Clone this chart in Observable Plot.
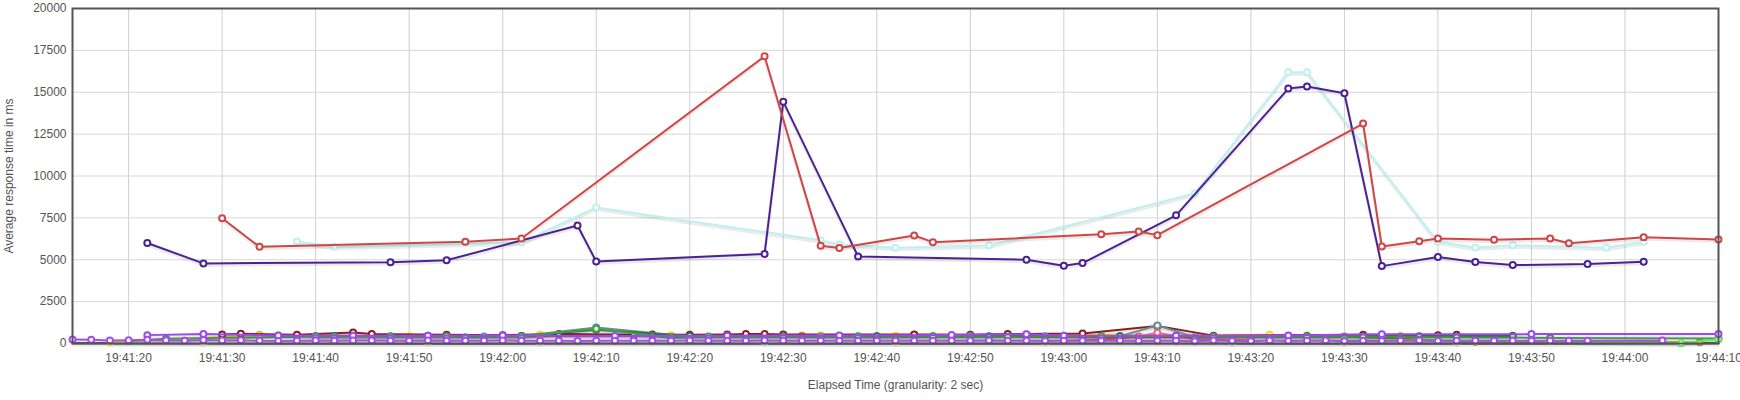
<!DOCTYPE html>
<html><head><meta charset="utf-8">
<script src="https://cdn.jsdelivr.net/npm/d3@7"></script>
<script src="https://cdn.jsdelivr.net/npm/@observablehq/plot@0.6"></script>
<style>
body{margin:0;background:#fff;}
#chart svg{overflow:visible;}
</style>
</head><body><div id="chart"></div>
<script>
// Times are seconds after 19:41:00
const xTickSeconds = [20,30,40,50,60,70,80,90,100,110,120,130,140,150,160,170,180,190];
const xTickLabels = ["19:41:20","19:41:30","19:41:40","19:41:50","19:42:00","19:42:10","19:42:20","19:42:30","19:42:40","19:42:50","19:43:00","19:43:10","19:43:20","19:43:30","19:43:40","19:43:50","19:44:00","19:44:10"];
const yTickValues = [0,2500,5000,7500,10000,12500,15000,17500,20000];
const xDomainSeconds = [14,190];

// main series
const purpleT = [22,28,48,54,68,70,88,90,98,116,120,122,132,144,146,150,154,160,164,168,176,182];
const purpleV = [6000,4780,4850,4970,7040,4900,5350,14440,5200,5000,4640,4800,7650,15220,15340,14940,4620,5160,4860,4680,4740,4880];
const redT = [30,34,56,62,88,94,96,104,106,124,128,130,152,154,158,160,166,172,174,182,190];
const redV = [7480,5770,6070,6270,17150,5830,5700,6450,6050,6520,6690,6470,13130,5790,6110,6270,6190,6270,5990,6350,6210];
const cyanT = [38,42,62,70,94,96,102,112,134,144,146,160,164,168,178,182];
const cyanV = [6090,5770,6030,8120,6170,5910,5710,5850,8950,16200,16200,6070,5730,5870,5710,6070];

// low series
const blackT = [14,40,70,100,130,160,190];
const blackV = [10,0,10,0,10,0,10];
const beigeT = [18,28,52,64,88,102,118,138,150,162];
const beigeV = [60,40,40,50,60,30,40,30,50,40];
const brownT = [32,34,46,62,92,108,132,142,150,164,188];
const brownV = [480,510,450,430,460,420,380,400,420,110,80];
const yellowT = [18,34,36,50,64,78,94,102,104,116,124,142,146,156];
const yellowV = [100,480,490,440,520,500,500,470,520,550,520,520,480,470];
const darkredT = [30,32,38,44,46,54,60,66,74,76,80,84,86,88,90,104,110,114,122,130,136,152,160,162];
const darkredV = [540,580,520,650,560,520,500,560,520,540,520,540,560,560,530,540,520,560,590,1050,470,520,500,520];
const slateT = [40,52,58,62,70,80,94,96,98,100,106,110,118,126,130,134,146,156,168];
const slateV = [430,460,420,450,960,420,420,440,430,430,450,450,440,430,1080,380,420,400,430];
const salmonT = [120,126,128,130,134,140];
const salmonV = [150,300,420,640,260,200];
const darkgreenT = [40,42,48,62,70,80,100,112,126,146,158,168];
const darkgreenV = [440,450,430,450,820,450,440,430,430,450,440,460];
const greenT = [20,24,40,42,48,54,56,62,70,78,82,90,98,106,114,124,132,136,146,152,162,172,190];
const greenV = [150,280,420,400,400,430,380,420,880,330,420,400,420,410,400,420,430,420,400,410,380,330,300];
const limeT = [150,172,186,190];
const limeV = [200,140,20,260];
const violetHighT = [22,28,36,44,52,60,72,84,96,108,116,120,132,144,154,170,190];
const violetHighV = [500,560,480,460,470,480,450,470,480,510,550,470,460,480,550,560,560];
const violetLowT = [14,16,18,20,22,24,26,28,30,32,34,36,38,40,42,44,46,48,50,52,54,56,58,60,62,64,66,68,70,72,74,76,78,80,82,84,86,88,90,92,94,96,98,100,102,104,106,108,110,112,114,116,118,120,122,124,126,128,130,132,134,136,138,140,142,144,146,148,150,152,154,156,158,160,162,164,166,168,170,172,174,176,184];
const violetLowV = [240,220,180,200,230,190,170,210,180,190,160,150,160,180,170,180,180,170,170,180,160,170,170,180,160,170,160,150,170,170,160,160,170,180,170,160,170,180,170,160,170,160,160,170,160,170,160,170,160,180,170,160,150,170,160,170,160,150,170,160,140,180,150,140,180,150,160,180,140,160,150,160,180,150,170,160,160,170,170,160,160,170,180];

const seriesDefs = [
  {name:"black", color:"#1a1a1a", t:blackT, v:blackV, noDots:true},
  {name:"beige", color:"#d9cfc4", t:beigeT, v:beigeV},
  {name:"brown", color:"#b3892f", t:brownT, v:brownV},
  {name:"yellow", color:"#f0e010", t:yellowT, v:yellowV},
  {name:"darkred", color:"#8b1f1f", t:darkredT, v:darkredV},
  {name:"salmon", color:"#f06a6a", t:salmonT, v:salmonV},
  {name:"slate", color:"#6e8a9a", t:slateT, v:slateV},
  {name:"darkgreen", color:"#2a7a3a", t:darkgreenT, v:darkgreenV},
  {name:"green", color:"#41a045", t:greenT, v:greenV},
  {name:"lime", color:"#6ce05a", t:limeT, v:limeV},
  {name:"violetHigh", color:"#9a48f0", t:violetHighT, v:violetHighV},
  {name:"violetLow", color:"#a64df0", t:violetLowT, v:violetLowV},
  {name:"cyan", color:"#bdf0f0", t:cyanT, v:cyanV},
  {name:"purple", color:"#4b2293", t:purpleT, v:purpleV},
  {name:"red", color:"#d04646", t:redT, v:redV}
];

const base = Date.UTC(2024,0,1,19,41,0);
const toDate = s => new Date(base + s*1000);
const xTicks = xTickSeconds.map(toDate);
const labelOf = new Map(xTicks.map((d,i)=>[+d, xTickLabels[i]]));

const marks = [
  Plot.ruleX(xTicks, {stroke:"#cfcfcf", strokeWidth:1}),
  Plot.ruleY(yTickValues, {stroke:"#d6d6d6", strokeWidth:1})
];
for (const s of seriesDefs) {
  const data = s.t.map((t,i)=>({time:toDate(t), value:s.v[i]}));
  marks.push(Plot.line(data,{x:"time",y:"value",stroke:"#000",strokeOpacity:0.08,strokeWidth:3,dy:2}));
  marks.push(Plot.line(data,{x:"time",y:"value",stroke:s.color,strokeWidth:2}));
  if (!s.noDots) marks.push(Plot.dot(data,{x:"time",y:"value",r:3,stroke:s.color,strokeWidth:2,fill:"white"}));
}
marks.push(Plot.frame({stroke:"#545454", strokeWidth:2}));
marks.push(Plot.axisX(xTicks,{tickSize:0,tickPadding:10,tickFormat:d=>labelOf.get(+d),color:"#545454",
  label:"Elapsed Time (granularity: 2 sec)",labelAnchor:"center",labelArrow:"none",labelOffset:45}));
marks.push(Plot.axisY(yTickValues,{tickSize:0,tickPadding:6,color:"#545454",tickFormat:d=>String(d),
  label:"Average response time in ms",labelAnchor:"center",labelArrow:"none",labelOffset:68}));

const chart = Plot.plot({
  width:1740, height:400,
  marginLeft:72, marginRight:22, marginTop:8, marginBottom:57,
  style:{fontFamily:"'Liberation Sans', Arial, sans-serif", fontSize:"12px", color:"#222", background:"#fff"},
  x:{type:"utc", domain:xDomainSeconds.map(toDate)},
  y:{domain:[0,20000]},
  marks
});
document.getElementById("chart").appendChild(chart);
</script>
</body></html>
